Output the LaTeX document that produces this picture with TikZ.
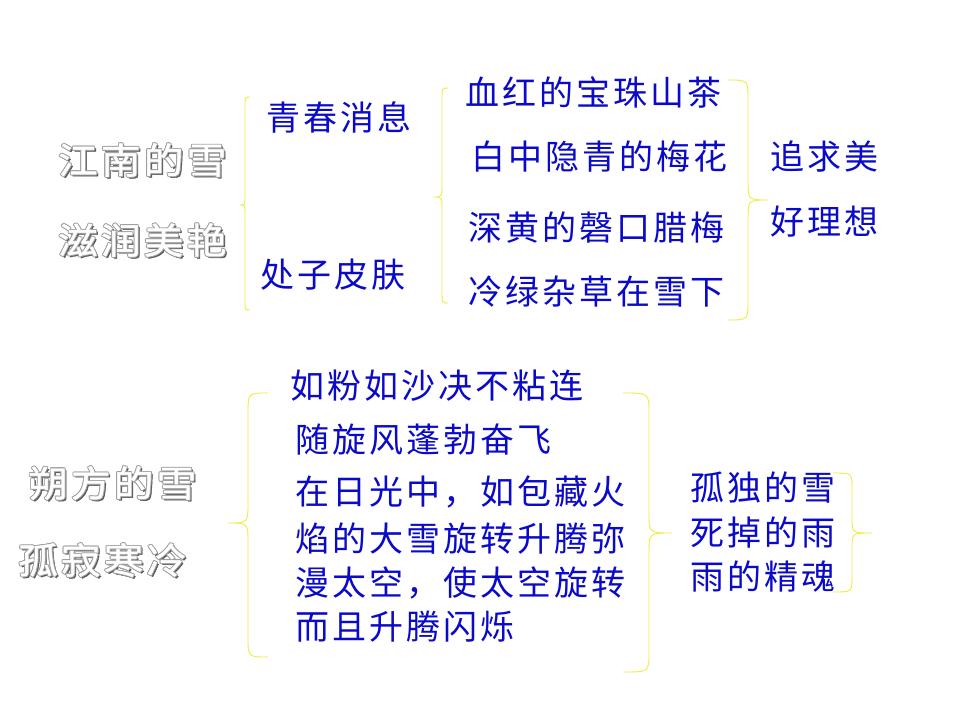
\documentclass[tikz,border=0pt]{standalone}
\usepackage{fontspec}
\newfontfamily\cjk[LetterSpace=9]{Noto Sans CJK SC}
\newfontfamily\titlefont[FakeStretch=1.1,LetterSpace=9,FakeBold=1.2]{Noto Sans CJK SC}
\definecolor{ink}{RGB}{10,10,200}
\definecolor{bracecol}{RGB}{240,236,60}
\tikzset{
  line/.style={anchor=west, inner sep=0pt, text=ink, font=\cjk\fontsize{34}{40}\selectfont},
  title/.style={anchor=west, inner sep=0pt, font=\titlefont\fontsize{36}{42}\selectfont},
  curly/.style={draw=bracecol, line width=0.9pt},
}
% brace: end x, spine x, tip x, top y, tip y, bottom y, curl
\newcommand{\snowbrace}[7]{%
  \draw[curly] (#1,#4) .. controls (#2,#4) .. (#2,#4+#7) -- (#2,#5-#7)
    .. controls (#2,#5) .. (#3,#5) .. controls (#2,#5) .. (#2,#5+#7)
    -- (#2,#6-#7) .. controls (#2,#6) .. (#1,#6);}
% embossed grey title
\newcommand{\snowtitle}[3]{%
  \node[title, text=black!65, xshift=1.8pt, yshift=-1.8pt] at (#2) {#3};
  \foreach \dx/\dy in {-0.9/0,0.9/0,0/0.9,0/-0.9,-0.7/0.7,0.7/0.7,-0.7/-0.7,0.7/-0.7}
    \node[title, text=gray!75, xshift=\dx pt, yshift=\dy pt] at (#2) {#3};
  \node[title, text=white] (#1) at (#2) {#3};}

\begin{document}
\begin{tikzpicture}[x=1pt, y=-1pt]
  \fill[white] (0,0) rectangle (960,720);
  \useasboundingbox (0,0) rectangle (960,720);
  % south snow
  \snowtitle{jn}{58,160}{江南的雪}
  \snowtitle{zr}{58,240}{滋润美艳}
  \snowbrace{250}{245}{240}{97}{205}{310}{10}
  \node[line] (qc) at (266,117) {青春消息};
  \node[line] (cz) at (260,275) {处子皮肤};
  \snowbrace{448}{442}{433}{88}{197}{303}{12}
  \node[line] (xh) at (465,92) {血红的宝珠山茶};
  \node[line] (bz) at (471,157) {白中隐青的梅花};
  \node[line] (sh) at (468,228) {深黄的磬口腊梅};
  \node[line] (ll) at (468,292) {冷绿杂草在雪下};
  \snowbrace{728}{748}{768}{80}{200}{320}{20}
  \node[line] (zq) at (770,157) {追求美};
  \node[line] (hl) at (770,222) {好理想};
  % north snow
  \snowtitle{sf}{28,483}{朔方的雪}
  \snowtitle{gj}{18,560}{孤寂寒冷}
  \snowbrace{268}{248}{228}{393}{523}{657}{20}
  \node[line] (rf) at (290,386) {如粉如沙决不粘连};
  \node[line] (sx) at (295,440) {随旋风蓬勃奋飞};
  \node[line] (zg) at (295,492) {在日光中，如包藏火};
  \node[line] (yd) at (295,539) {焰的大雪旋转升腾弥};
  \node[line] (mt) at (295,583) {漫太空，使太空旋转};
  \node[line] (eq) at (295,627) {而且升腾闪烁};
  \snowbrace{623}{649}{672}{393}{533}{672}{20}
  \node[line] (gd) at (690,488) {孤独的雪};
  \node[line] (sd) at (690,533) {死掉的雨};
  \node[line] (yj) at (690,577) {雨的精魂};
  \snowbrace{833}{852}{872}{473}{533}{592}{15}
\end{tikzpicture}
\end{document}
